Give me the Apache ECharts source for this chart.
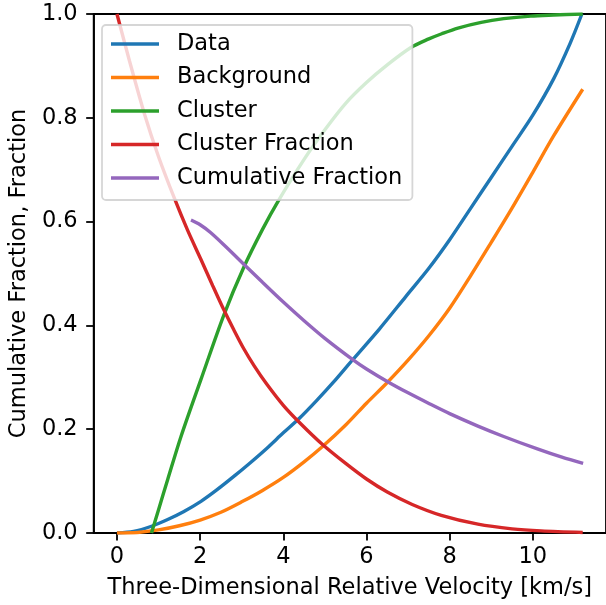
<!DOCTYPE html>
<html>
<head>
<meta charset="utf-8">
<script src="https://cdn.jsdelivr.net/npm/echarts@6/dist/echarts.min.js"></script>
<style>
  html, body { margin: 0; padding: 0; background: #fff; }
  #chart { width: 606px; height: 605px; }
</style>
</head>
<body>
<div id="chart"></div>
<script>
// Velocity grid (km/s) and curve values for each series
const dataX = [0, 0.4, 0.83, 1.22, 1.6, 2.02, 2.4, 2.81, 3.2, 3.6, 4.0, 4.4, 4.8, 5.2, 5.67, 6.3, 6.94, 7.5, 8.0, 8.5, 9.0, 9.5, 10.0, 10.5, 10.9, 11.18];
const dataY = [0, 0.003, 0.013, 0.026, 0.041, 0.061, 0.083, 0.109, 0.135, 0.163, 0.193, 0.222, 0.255, 0.29, 0.334, 0.392, 0.455, 0.51, 0.565, 0.625, 0.685, 0.745, 0.805, 0.875, 0.944, 1.0];

const bgX = [0, 0.5, 1.0, 1.5, 2.0, 2.5, 3.0, 3.5, 4.0, 4.5, 4.95, 5.5, 6.0, 6.5, 7.0, 7.5, 8.0, 8.5, 9.0, 9.5, 10.0, 10.5, 11.2];
const bgY = [0, 0.001, 0.006, 0.014, 0.025, 0.04, 0.06, 0.082, 0.107, 0.137, 0.167, 0.208, 0.25, 0.29, 0.333, 0.38, 0.433, 0.495, 0.56, 0.626, 0.695, 0.765, 0.855];

const clusterX = [0.83, 1.0, 1.22, 1.54, 2.02, 2.57, 3.05, 3.5, 3.88, 4.5, 5.0, 5.5, 6.0, 6.5, 7.06, 7.5, 7.81, 8.2, 8.76, 9.3, 9.95, 10.5, 11.2];
const clusterY = [0, 0.045, 0.103, 0.186, 0.296, 0.42, 0.512, 0.585, 0.64, 0.72, 0.777, 0.828, 0.868, 0.902, 0.935, 0.952, 0.962, 0.973, 0.984, 0.991, 0.996, 0.998, 1.0];

const fracX = [0, 0.3, 0.67, 1.0, 1.38, 1.7, 2.02, 2.3, 2.57, 2.8, 3.05, 3.3, 3.6, 4.0, 4.4, 4.95, 5.5, 6.0, 6.5, 7.1, 7.8, 8.68, 9.5, 10.2, 11.2];
const fracY = [1.0, 0.91, 0.805, 0.725, 0.645, 0.583, 0.527, 0.477, 0.43, 0.393, 0.355, 0.322, 0.287, 0.246, 0.212, 0.17, 0.134, 0.104, 0.079, 0.055, 0.034, 0.017, 0.008, 0.004, 0.001];

const cumX = [1.78, 2.0, 2.25, 2.6, 3.05, 3.5, 4.0, 4.5, 5.0, 5.67, 6.0, 6.54, 7.0, 7.49, 8.0, 8.68, 9.3, 10.11, 10.7, 11.21];
const cumY = [0.603, 0.594, 0.579, 0.553, 0.518, 0.483, 0.445, 0.409, 0.375, 0.334, 0.316, 0.29, 0.27, 0.25, 0.23, 0.206, 0.186, 0.162, 0.146, 0.134];

const xTicks = [0, 2, 4, 6, 8, 10];
const seriesNames = ['Data', 'Background', 'Cluster', 'Cluster Fraction', 'Cumulative Fraction'];
const colors = ['#1f77b4', '#ff7f0e', '#2ca02c', '#d62728', '#9467bd'];

const zip = (xs, ys) => xs.map((x, i) => [x, ys[i]]);
const curves = [zip(dataX, dataY), zip(bgX, bgY), zip(clusterX, clusterY), zip(fracX, fracY), zip(cumX, cumY)];

const FONT = 'DejaVu Sans';
const FS = 22.5;
const SPINE = 1.8;
const chart = echarts.init(document.getElementById('chart'), null, { renderer: 'canvas' });

chart.setOption({
  animation: false,
  backgroundColor: '#fff',
  color: colors,
  textStyle: { fontFamily: FONT },
  grid: {
    left: 92, top: 14, width: 517, height: 520,
    show: true, borderColor: '#000', borderWidth: SPINE, backgroundColor: 'transparent'
  },
  legend: {
    orient: 'vertical',
    left: 102, top: 25,
    padding: [6, 10, 9, 9],
    itemGap: 7.5,
    icon: 'rect',
    itemWidth: 48, itemHeight: 3.4,
    backgroundColor: 'rgba(255,255,255,0.8)',
    borderColor: 'rgba(204,204,204,0.8)',
    borderWidth: 1.8,
    borderRadius: 4,
    selectedMode: false,
    data: seriesNames,
    textStyle: { fontFamily: FONT, fontSize: FS, color: '#000', lineHeight: 26, padding: [0, 0, 0, 13] }
  },
  xAxis: {
    type: 'value',
    min: -0.56, max: 11.76,
    name: 'Three-Dimensional Relative Velocity [km/s]',
    nameLocation: 'middle',
    nameGap: 44,
    nameTextStyle: { fontFamily: FONT, fontSize: FS, color: '#000' },
    axisLine: { show: true, onZero: false, lineStyle: { color: '#000', width: SPINE } },
    axisTick: { show: true, inside: false, length: 7.5, lineStyle: { color: '#000', width: SPINE }, customValues: xTicks },
    axisLabel: { fontFamily: FONT, fontSize: FS, color: '#000', margin: 13, customValues: xTicks },
    splitLine: { show: false }
  },
  yAxis: {
    type: 'value',
    min: 0, max: 1, interval: 0.2,
    name: 'Cumulative Fraction, Fraction',
    nameLocation: 'middle',
    nameGap: 61,
    nameTextStyle: { fontFamily: FONT, fontSize: FS, color: '#000' },
    axisLine: { show: true, onZero: false, lineStyle: { color: '#000', width: SPINE } },
    axisTick: { show: true, inside: false, length: 7.5, lineStyle: { color: '#000', width: SPINE } },
    axisLabel: { fontFamily: FONT, fontSize: FS, color: '#000', margin: 16, formatter: v => v.toFixed(1) },
    splitLine: { show: false }
  },
  series: seriesNames.map((name, i) => ({
    name,
    type: 'line',
    data: curves[i],
    showSymbol: false,
    symbol: 'none',
    clip: true,
    smooth: 0.3,
    lineStyle: { width: 3.4, color: colors[i] },
    itemStyle: { color: colors[i] },
    z: 2 + i * 0.01
  }))
});
</script>
</body>
</html>
